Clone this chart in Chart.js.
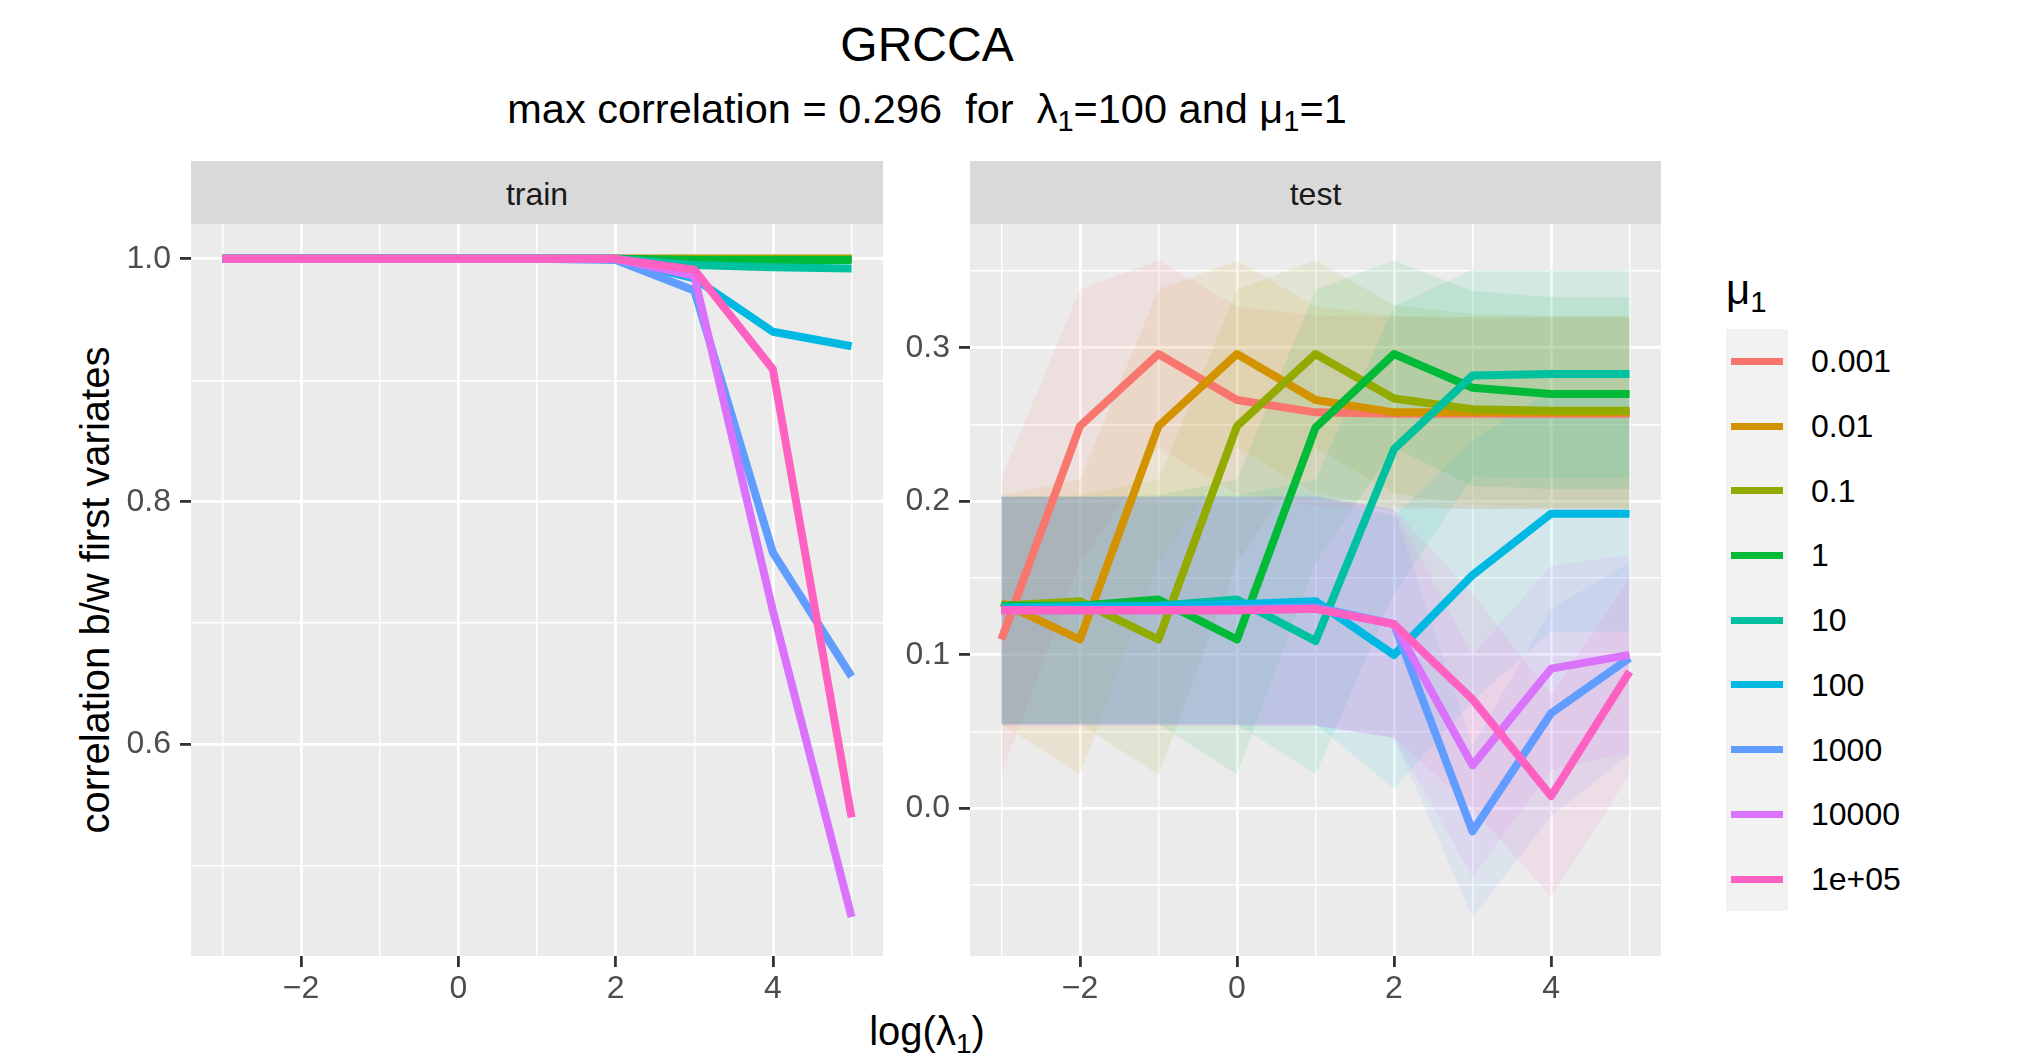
<!DOCTYPE html>
<html>
<head>
<meta charset="utf-8">
<script src="https://cdn.jsdelivr.net/npm/chart.js@4/dist/chart.umd.min.js"></script>
<style>
  body { margin: 0; width: 2020px; height: 1063px; background: #fff; position: relative; overflow: hidden;
         font-family: "Liberation Sans", Arial, Helvetica, sans-serif; color: #000; }
  .abs { position: absolute; white-space: pre; }
  sub { font-size: 0.7em; vertical-align: -0.28em; line-height: 0; }
  .strip { position: absolute; top: 161px; height: 63px; background: #D9D9D9; color: #1A1A1A;
           font-size: 32px; line-height: 66px; text-align: center; }
  #legendBox { position: absolute; left: 1726px; top: 329px; width: 62px; background: #F2F2F2; }
  .key { position: relative; height: 64.7px; }
  .key span { position: absolute; left: 5px; width: 52px; height: 7px; top: 29px; }
  .lab { position: absolute; left: 1811px; font-size: 32px; line-height: 32px; }
  canvas { position: absolute; }
</style>
</head>
<body>
<div class="abs" style="left:0;width:1854px;top:21px;font-size:48px;line-height:48px;text-align:center;">GRCCA</div>
<div class="abs" style="left:0;width:1854px;top:88px;font-size:41.5px;line-height:41px;text-align:center;">max correlation = 0.296  for  λ<sub>1</sub>=100 and μ<sub>1</sub>=1</div>
<div class="strip" style="left:191px;width:692px;">train</div>
<div class="strip" style="left:970px;width:691px;">test</div>
<div class="abs" style="left:-305px;width:800px;top:570px;height:40px;font-size:40px;line-height:40px;text-align:center;transform:rotate(-90deg);">correlation b/w first variates</div>
<div class="abs" style="left:0;width:1854px;top:1011px;font-size:40px;line-height:40px;text-align:center;">log(λ<sub>1</sub>)</div>
<div class="abs" style="left:1726px;top:269px;font-size:42px;line-height:42px;">μ<sub>1</sub></div>
<div id="legendBox"></div>
<div id="legendLabels"></div>

<canvas id="trainChart" width="883" height="839" style="left:0px;top:224px;"></canvas>
<canvas id="testChart" width="781" height="839" style="left:880px;top:224px;"></canvas>

<script>
// log(lambda1) grid
const lambdaLog = [-3, -2, -1, 0, 1, 2, 3, 4, 5];
const muLabels = ['0.001', '0.01', '0.1', '1', '10', '100', '1000', '10000', '1e+05'];
const muColors = ['#F8766D', '#D39200', '#93AA00', '#00BA38', '#00C19F', '#00B9E3', '#619CFF', '#DB72FB', '#FF61C3'];

// train correlation, one row per mu1
const trainCorr = [
  [1, 1, 1, 1, 1, 1, 1, 1, 1],
  [1, 1, 1, 1, 1, 1, 1, 1, 1],
  [1, 1, 1, 1, 1, 1, 1, 1, 1],
  [1, 1, 1, 1, 1, 1, 0.999, 0.999, 0.999],
  [1, 1, 1, 1, 1, 1, 0.995, 0.993, 0.992],
  [1, 1, 1, 1, 1, 1, 0.984, 0.940, 0.928],
  [1, 1, 1, 1, 1, 0.999, 0.974, 0.758, 0.656],
  [1, 1, 1, 1, 1, 1, 0.986, 0.710, 0.458],
  [1, 1, 1, 1, 1, 1, 0.991, 0.909, 0.540]
];

// test correlation (mean) and its band
const testCorr = [
  [0.110, 0.249, 0.296, 0.266, 0.258, 0.257, 0.257, 0.257, 0.257],
  [0.134, 0.110, 0.249, 0.296, 0.266, 0.258, 0.258, 0.258, 0.258],
  [0.132, 0.135, 0.110, 0.249, 0.296, 0.267, 0.260, 0.259, 0.259],
  [0.132, 0.132, 0.136, 0.110, 0.248, 0.296, 0.274, 0.270, 0.270],
  [0.131, 0.132, 0.132, 0.136, 0.109, 0.234, 0.282, 0.283, 0.283],
  [0.130, 0.131, 0.132, 0.133, 0.135, 0.100, 0.152, 0.192, 0.192],
  [0.129, 0.129, 0.129, 0.130, 0.131, 0.120, -0.015, 0.062, 0.098],
  [0.129, 0.129, 0.129, 0.129, 0.130, 0.120, 0.028, 0.091, 0.100],
  [0.129, 0.129, 0.129, 0.129, 0.130, 0.120, 0.071, 0.008, 0.089]
];
const testLow = [
  [0.022, 0.160, 0.235, 0.205, 0.197, 0.195, 0.195, 0.195, 0.195],
  [0.055, 0.022, 0.160, 0.235, 0.205, 0.197, 0.195, 0.195, 0.195],
  [0.055, 0.055, 0.022, 0.160, 0.235, 0.205, 0.198, 0.196, 0.196],
  [0.055, 0.055, 0.055, 0.022, 0.160, 0.235, 0.210, 0.208, 0.208],
  [0.055, 0.055, 0.055, 0.055, 0.022, 0.140, 0.216, 0.215, 0.215],
  [0.055, 0.055, 0.055, 0.055, 0.055, 0.013, 0.070, 0.115, 0.115],
  [0.054, 0.054, 0.054, 0.054, 0.054, 0.046, -0.071, -0.005, 0.035],
  [0.054, 0.054, 0.054, 0.054, 0.054, 0.046, -0.045, 0.025, 0.036],
  [0.054, 0.054, 0.054, 0.054, 0.054, 0.046, 0.000, -0.058, 0.022]
];
const testHigh = [
  [0.215, 0.338, 0.357, 0.327, 0.321, 0.320, 0.320, 0.320, 0.320],
  [0.204, 0.214, 0.338, 0.357, 0.327, 0.321, 0.320, 0.320, 0.320],
  [0.203, 0.204, 0.214, 0.338, 0.357, 0.328, 0.322, 0.321, 0.321],
  [0.203, 0.203, 0.204, 0.214, 0.338, 0.357, 0.337, 0.333, 0.333],
  [0.203, 0.203, 0.203, 0.204, 0.214, 0.327, 0.351, 0.351, 0.351],
  [0.203, 0.203, 0.203, 0.203, 0.204, 0.190, 0.240, 0.272, 0.272],
  [0.203, 0.203, 0.203, 0.203, 0.203, 0.195, 0.041, 0.130, 0.160],
  [0.203, 0.203, 0.203, 0.203, 0.203, 0.195, 0.100, 0.158, 0.165],
  [0.203, 0.203, 0.203, 0.203, 0.203, 0.195, 0.140, 0.074, 0.150]
];

const xTicks = [-3, -2, -1, 0, 1, 2, 3, 4, 5];
const xMajor = [-2, 0, 2, 4];
const trainYTicks = [0.5, 0.6, 0.7, 0.8, 0.9, 1.0];
const trainYMajor = [0.6, 0.8, 1.0];
const testYTicks = [-0.05, 0, 0.05, 0.1, 0.15, 0.2, 0.25, 0.3, 0.35];
const testYMajor = [0, 0.1, 0.2, 0.3];

function hexA(hex, a) {
  const n = parseInt(hex.slice(1), 16);
  return 'rgba(' + (n >> 16) + ',' + ((n >> 8) & 255) + ',' + (n & 255) + ',' + a + ')';
}
function isIn(list, v) { return list.some(m => Math.abs(m - v) < 1e-9); }
function pts(arr) { return lambdaLog.map((x, j) => ({x: x, y: arr[j]})); }
function minusFmt(v) { return v < 0 ? '\u2212' + Math.abs(v) : String(v); }

// grey panel background like ggplot
const panelBg = {
  id: 'panelBg',
  beforeDraw(chart) {
    const {ctx, chartArea: a} = chart;
    ctx.save();
    ctx.fillStyle = '#EBEBEB';
    ctx.fillRect(a.left, a.top, a.right - a.left, a.bottom - a.top);
    ctx.restore();
  }
};

function noPad(s) {
  s.paddingTop = 0; s.paddingBottom = 0; s.paddingLeft = 0; s.paddingRight = 0;
}

function makeScales(yMin, yMax, yTicks, yMajor, yWidth, yFmt) {
  return {
    x: {
      type: 'linear', min: -3.4, max: 5.4,
      afterBuildTicks: s => { s.ticks = xTicks.map(v => ({value: v})); },
      afterFit: s => { s.height = 107; noPad(s); },
      border: {display: false},
      grid: {
        color: '#FFFFFF',
        lineWidth: c => isIn(xMajor, c.tick.value) ? 2.8 : 1.4,
        tickColor: c => isIn(xMajor, c.tick.value) ? '#333333' : 'rgba(0,0,0,0)',
        tickWidth: 2.8, tickLength: 11
      },
      ticks: {
        autoSkip: false, maxRotation: 0, padding: 3,
        color: '#4D4D4D', font: {size: 32, family: '"Liberation Sans", Arial'},
        callback: v => isIn(xMajor, v) ? minusFmt(v) : ''
      }
    },
    y: {
      type: 'linear', min: yMin, max: yMax,
      afterBuildTicks: s => { s.ticks = yTicks.map(v => ({value: v})); },
      afterFit: s => { s.width = yWidth; noPad(s); },
      border: {display: false},
      grid: {
        color: '#FFFFFF',
        lineWidth: c => isIn(yMajor, c.tick.value) ? 2.8 : 1.4,
        tickColor: c => isIn(yMajor, c.tick.value) ? '#333333' : 'rgba(0,0,0,0)',
        tickWidth: 2.8, tickLength: 11
      },
      ticks: {
        autoSkip: false, padding: 9,
        color: '#4D4D4D', font: {size: 32, family: '"Liberation Sans", Arial'},
        callback: v => isIn(yMajor, v) ? yFmt(v) : ''
      }
    }
  };
}

const baseOpts = {
  responsive: false, animation: false,
  layout: {padding: 0},
  elements: {point: {radius: 0}, line: {borderJoinStyle: 'round', borderCapStyle: 'butt', tension: 0}},
  plugins: {legend: {display: false}, tooltip: {enabled: false}, filler: {drawTime: 'beforeDatasetsDraw'}}
};

// train panel
const trainSets = trainCorr.map((row, i) => ({
  label: muLabels[i], data: pts(row), borderColor: muColors[i], borderWidth: 8, fill: false, order: 8 - i
}));
new Chart(document.getElementById('trainChart'), {
  type: 'line',
  data: {datasets: trainSets},
  options: Object.assign({}, baseOpts, {
    scales: makeScales(0.4258, 1.0287, trainYTicks, trainYMajor, 191, v => v.toFixed(1))
  }),
  plugins: [panelBg]
});

// test panel: band (low, high) then mean line for every mu1
const testSets = [];
testCorr.forEach((row, i) => {
  const loIdx = testSets.length;
  testSets.push({label: muLabels[i] + ' low', data: pts(testLow[i]), borderWidth: 0,
                 borderColor: 'rgba(0,0,0,0)', fill: false, order: 8 - i});
  testSets.push({label: muLabels[i] + ' high', data: pts(testHigh[i]), borderWidth: 0,
                 borderColor: 'rgba(0,0,0,0)', backgroundColor: hexA(muColors[i], 0.1),
                 fill: {target: loIdx}, order: 8 - i});
  testSets.push({label: muLabels[i], data: pts(row), borderColor: muColors[i], borderWidth: 8,
                 fill: false, order: 8 - i});
});
new Chart(document.getElementById('testChart'), {
  type: 'line',
  data: {datasets: testSets},
  options: Object.assign({}, baseOpts, {
    scales: makeScales(-0.0962, 0.3807, testYTicks, testYMajor, 90, v => v.toFixed(1))
  }),
  plugins: [panelBg]
});

// legend
const box = document.getElementById('legendBox');
const labs = document.getElementById('legendLabels');
muLabels.forEach((lab, i) => {
  const k = document.createElement('div');
  k.className = 'key';
  const s = document.createElement('span');
  s.style.background = muColors[i];
  k.appendChild(s);
  box.appendChild(k);
  const t = document.createElement('div');
  t.className = 'lab';
  t.textContent = lab;
  t.style.top = (329 + 64.7 * (i + 0.5) - 16) + 'px';
  labs.appendChild(t);
});
</script>
</body>
</html>
